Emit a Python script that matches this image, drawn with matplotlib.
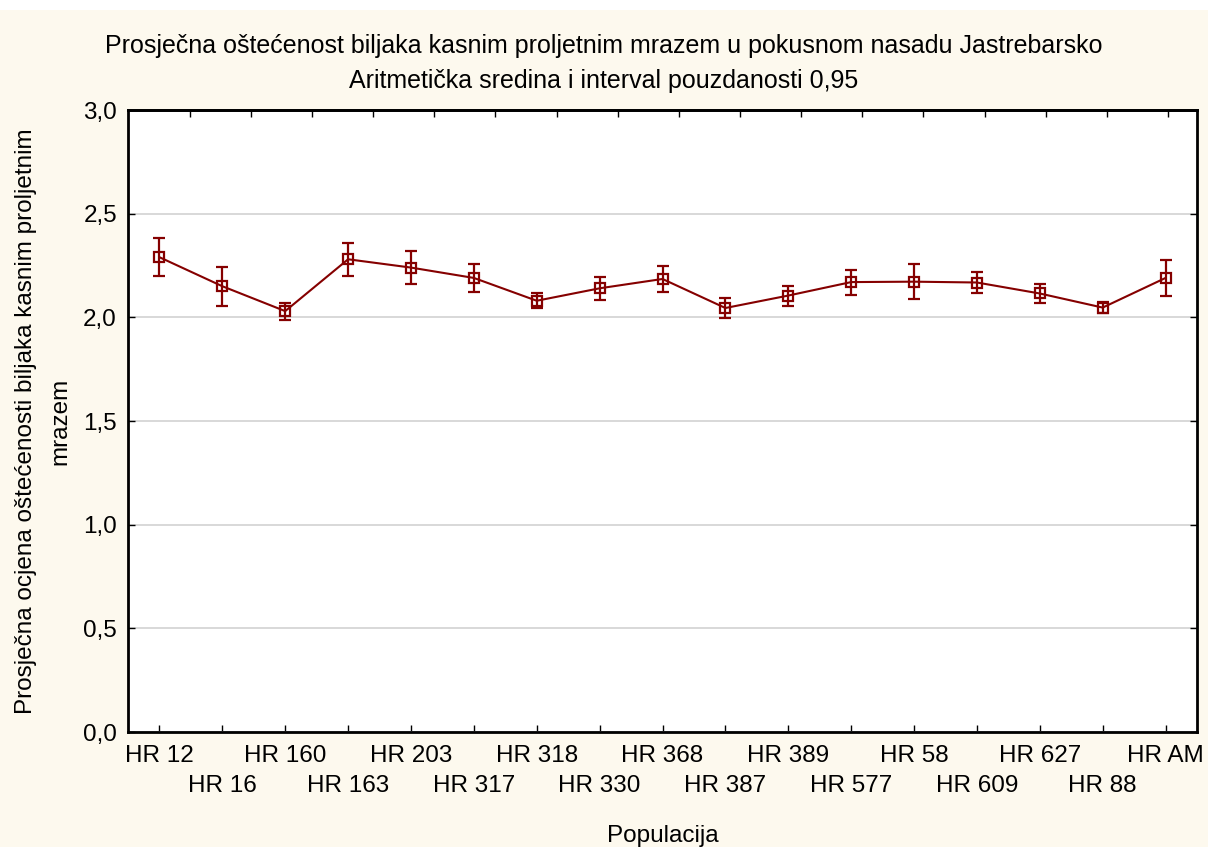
import numpy as np
import matplotlib
matplotlib.use('Agg')
import matplotlib.pyplot as plt
from matplotlib.patches import Rectangle

plt.rcParams['font.family'] = ['Liberation Sans', 'DejaVu Sans']

populations = ['HR 12', 'HR 16', 'HR 160', 'HR 163', 'HR 203', 'HR 317', 'HR 318',
               'HR 330', 'HR 368', 'HR 387', 'HR 389', 'HR 577', 'HR 58', 'HR 609',
               'HR 627', 'HR 88', 'HR AM']
means = [2.29, 2.15, 2.03, 2.28, 2.24, 2.19, 2.08, 2.14, 2.185, 2.045, 2.105,
         2.17, 2.172, 2.168, 2.115, 2.047, 2.19]
ci_half = [0.093, 0.095, 0.041, 0.079, 0.081, 0.067, 0.036, 0.056, 0.065, 0.046,
           0.048, 0.060, 0.085, 0.052, 0.044, 0.028, 0.088]
yticks = [0.0, 0.5, 1.0, 1.5, 2.0, 2.5, 3.0]

title = ('Prosječna oštećenost biljaka kasnim proljetnim mrazem u pokusnom nasadu Jastrebarsko\n'
         'Aritmetička sredina i interval pouzdanosti 0,95')
ylabel = 'Prosječna ocjena oštećenosti biljaka kasnim proljetnim\nmrazem'
xlabel = 'Populacija'

C_LINE = '#850000'
C_BG = '#fdf9ee'
FS = 17.5

fig = plt.figure(figsize=(12.08, 8.47), dpi=100, facecolor=C_BG)
fig.patches.append(Rectangle((0, 0.988), 1, 0.012, transform=fig.transFigure,
                             facecolor='white', edgecolor='none', zorder=-1))
ax = fig.add_axes([128/1208, 1 - 732/847, (1197-128)/1208, (732-110)/847])
ax.set_facecolor('white')

x = np.arange(len(populations))
ax.errorbar(x, means, yerr=ci_half, color=C_LINE, lw=1.5, elinewidth=1.6,
            capsize=4.5, capthick=1.6, marker='s', ms=7.5, mfc='none', mec=C_LINE,
            mew=1.6, zorder=3)

ax.set_xlim(-0.5, len(populations) - 0.5)
ax.set_ylim(0, 3)
ax.set_yticks(yticks)
ax.set_yticklabels([('%.1f' % v).replace('.', ',') for v in yticks], fontsize=FS)
ax.yaxis.grid(True, color='#d6d6d6', lw=1.3)
ax.set_axisbelow(True)

# alternate labels on two rows: even on major ticks, odd on minor ticks
ax.set_xticks(x[::2])
ax.set_xticklabels(populations[::2], fontsize=FS)
ax.set_xticks(x[1::2], minor=True)
ax.set_xticklabels(populations[1::2], minor=True, fontsize=FS)

ax.tick_params(axis='both', which='both', direction='in', length=5, width=1,
               colors='black')
ax.tick_params(axis='x', which='major', pad=9)
ax.tick_params(axis='x', which='minor', pad=31)
ax.tick_params(axis='y', pad=8, right=True)

# top ticks (offset, as in the original)
top = ax.secondary_xaxis('top')
top.set_xticks(np.linspace(0.48, 16.04, 17))
top.set_xticklabels([])
top.tick_params(direction='in', length=5, width=1)

for s in ax.spines.values():
    s.set_linewidth(2)
    s.set_color('black')
top.spines['top'].set_linewidth(2)

ax.set_xlabel(xlabel, fontsize=FS, labelpad=20)
ax.set_ylabel(ylabel, fontsize=FS, labelpad=8, linespacing=1.77)
fig.text(0.5, 0.925, title, ha='center', va='center', fontsize=18,
         linespacing=1.55)

fig.savefig('out.png', dpi=100, facecolor=C_BG)
